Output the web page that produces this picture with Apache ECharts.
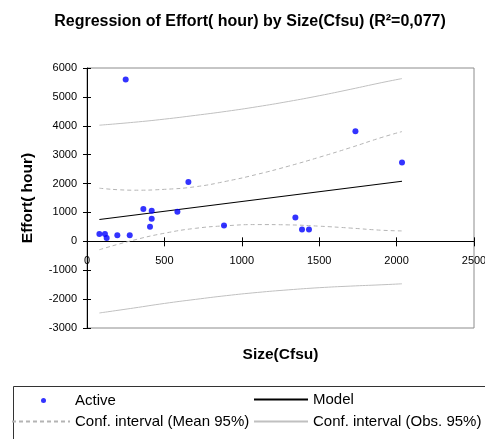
<!DOCTYPE html>
<html>
<head>
<meta charset="utf-8">
<script src="https://cdn.jsdelivr.net/npm/echarts@6/dist/echarts.min.js"></script>
<style>
  html, body { margin: 0; padding: 0; background: #fff; }
  #chart { width: 485px; height: 439px; }
</style>
</head>
<body>
<div id="chart"></div>
<script>
// observations (Size, Effort)
var activePoints = [
    [80, 258], [116, 258], [127, 118], [196, 209], [250, 5600], [276, 209],
    [364, 1115], [407, 502], [418, 1059], [418, 780], [584, 1024], [655, 2056],
    [885, 547], [1346, 826], [1389, 408], [1434, 408], [1734, 3812], [2035, 2732]
];
var modelLine = [[80, 756], [2035, 2080]];
// confidence bands
var bandX = [80, 300, 500, 700, 900, 1100, 1300, 1500, 1700, 1900, 2035];
var meanUpper = [1840, 1770, 1800, 1890, 2080, 2320, 2600, 2910, 3240, 3590, 3800];
var meanLower = [-290, 40, 280, 450, 540, 580, 570, 525, 460, 385, 360];
var obsUpper = [4020, 4120, 4230, 4360, 4500, 4660, 4840, 5040, 5260, 5490, 5634];
var obsLower = [-2480, -2310, -2150, -2010, -1880, -1770, -1680, -1605, -1550, -1505, -1470];

function pairs(xs, ys) {
    var res = [];
    for (var i = 0; i < xs.length; i++) res.push([xs[i], ys[i]]);
    return res;
}

var font = 'Liberation Sans, Arial, sans-serif';
var chart = echarts.init(document.getElementById('chart'));

var meanStyle = { color: '#b4b4b4', width: 1, type: [4, 3] };
var obsStyle = { color: '#c0c0c0', width: 1 };
var plain = function (v) { return String(v); };
var legendText = { fontSize: 15, color: '#000', fontFamily: font };
// x axis sits on y = 0: 3000 of 9000 units above the bottom of a 260px grid
var zeroOffset = -260 * 3000 / 9000;

option = {
    animation: false,
    textStyle: { fontFamily: font },
    title: {
        text: 'Regression of Effort( hour) by Size(Cfsu) (R\u00b2=0,077)',
        left: 245,
        top: 9,
        textAlign: 'center',
        textStyle: { fontSize: 16, fontWeight: 'bold', color: '#000', fontFamily: font }
    },
    grid: {
        left: 87, top: 68, right: 11, bottom: 111,
        outerBoundsMode: 'none',
        show: true, borderColor: '#8c8c8c', borderWidth: 1
    },
    xAxis: [
        {
            type: 'value', min: 0, max: 2500, interval: 500,
            position: 'bottom', offset: zeroOffset,
            name: 'Size(Cfsu)', nameLocation: 'middle', nameGap: 105,
            nameTextStyle: { fontSize: 15.5, fontWeight: 'bold', color: '#000', fontFamily: font },
            axisLine: { show: true, onZero: false, lineStyle: { color: '#000' } },
            axisTick: { show: true, length: 5, lineStyle: { color: '#000' } },
            axisLabel: { fontSize: 11, color: '#000', margin: 14, formatter: plain },
            splitLine: { show: false }
        },
        {
            type: 'value', min: 0, max: 2500, interval: 500,
            position: 'bottom', offset: zeroOffset,
            axisLine: { show: false, onZero: false },
            axisTick: { show: true, inside: true, length: 4, lineStyle: { color: '#000' } },
            axisLabel: { show: false },
            splitLine: { show: false }
        }
    ],
    yAxis: [
        {
            type: 'value', min: -3000, max: 6000, interval: 1000,
            name: 'Effort( hour)', nameLocation: 'middle', nameGap: 51,
            nameTextStyle: { fontSize: 15.5, fontWeight: 'bold', color: '#000', fontFamily: font },
            axisLine: { show: true, onZero: false, lineStyle: { color: '#000' } },
            axisTick: { show: true, length: 4, lineStyle: { color: '#000' } },
            axisLabel: { fontSize: 11, color: '#000', margin: 10, formatter: plain },
            splitLine: { show: false }
        },
        {
            type: 'value', min: -3000, max: 6000, interval: 1000, position: 'left',
            axisLine: { show: false, onZero: false },
            axisTick: { show: true, inside: true, length: 4, lineStyle: { color: '#000' } },
            axisLabel: { show: false },
            splitLine: { show: false }
        }
    ],
    legend: [
        {
            data: ['Active'], left: 41, top: 393, padding: 0,
            itemWidth: 5, itemHeight: 5,
            textStyle: { fontSize: 15, color: '#000', fontFamily: font, padding: [0, 0, 0, 24] }
        },
        {
            data: ['Model'], left: 253, top: 392, padding: 0,
            itemWidth: 54, itemHeight: 14, itemStyle: { opacity: 0 },
            textStyle: legendText
        },
        {
            data: ['Conf. interval (Mean 95%)'], left: 11, top: 414, padding: 0,
            itemWidth: 58, itemHeight: 14, itemStyle: { opacity: 0 },
            textStyle: legendText
        },
        {
            data: ['Conf. interval (Obs. 95%)'], left: 253, top: 414, padding: 0,
            itemWidth: 54, itemHeight: 14, itemStyle: { opacity: 0 },
            textStyle: legendText
        }
    ],
    graphic: [
        {
            type: 'rect', left: 11, top: 384,
            shape: { width: 480, height: 60 },
            style: { fill: 'none', stroke: '#333', lineWidth: 1 },
            silent: true
        }
    ],
    series: [
        {
            name: 'Conf. interval (Obs. 95%)', type: 'line', data: pairs(bandX, obsUpper),
            symbol: 'none', smooth: true, lineStyle: obsStyle, itemStyle: { color: '#c0c0c0' }, z: 1
        },
        {
            name: 'Conf. interval (Obs. 95%)', type: 'line', data: pairs(bandX, obsLower),
            symbol: 'none', smooth: true, lineStyle: obsStyle, itemStyle: { color: '#c0c0c0' }, z: 1
        },
        {
            name: 'Conf. interval (Mean 95%)', type: 'line', data: pairs(bandX, meanUpper),
            symbol: 'none', smooth: true, lineStyle: meanStyle, itemStyle: { color: '#b4b4b4' }, z: 1
        },
        {
            name: 'Conf. interval (Mean 95%)', type: 'line', data: pairs(bandX, meanLower),
            symbol: 'none', smooth: true, lineStyle: meanStyle, itemStyle: { color: '#b4b4b4' }, z: 1
        },
        {
            name: 'Model', type: 'line', data: modelLine,
            symbol: 'none', lineStyle: { color: '#000', width: 1.2 }, itemStyle: { color: '#000' }, z: 2
        },
        {
            name: 'Active', type: 'scatter', data: activePoints,
            symbol: 'circle', symbolSize: 6, itemStyle: { color: '#0000ff' }, z: 3
        }
    ]
};

chart.setOption(option);
</script>
</body>
</html>
